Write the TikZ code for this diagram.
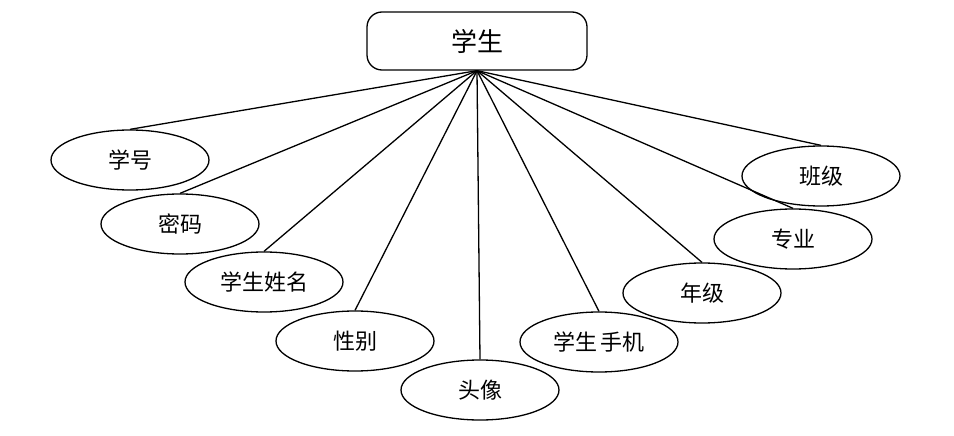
\documentclass[tikz,border=0pt]{standalone}
\usepackage{fontspec}
\setmainfont{Noto Sans CJK SC}
\usetikzlibrary{shapes.geometric}

\tikzset{
  entity/.style={draw, rounded corners=15pt, minimum width=220pt, minimum height=58pt,
    inner sep=0pt, font=\fontsize{26}{30}\selectfont},
  attr/.style={draw, ellipse, minimum width=158pt, minimum height=60pt,
    inner sep=0pt, font=\fontsize{22}{26}\selectfont},
}

\begin{document}
\begin{tikzpicture}[x=1pt, y=-1pt, line width=1.3pt]
  \useasboundingbox (0,0) rectangle (954,436);
  \node[entity] (stu) at (477,41) {学生};
  % attributes, left to right
  \node[attr] (xh) at (130,160) {学号};
  \node[attr] (mm) at (180,224) {密码};
  \node[attr] (xm) at (264,282) {学生姓名};
  \node[attr] (xb) at (355,341) {性别};
  \node[attr] (tx) at (480,390) {头像};
  \node[attr] (sj) at (599,342) {学生\hspace{3pt}手机};
  \node[attr] (nj) at (702,293) {年级};
  \node[attr] (zy) at (793,239) {专业};
  \node[attr] (bj) at (821,176) {班级};
  \foreach \a in {xh,mm,xm,xb,tx,sj,nj,zy,bj}
    \draw (stu.south) -- (\a.north);
\end{tikzpicture}
\end{document}
